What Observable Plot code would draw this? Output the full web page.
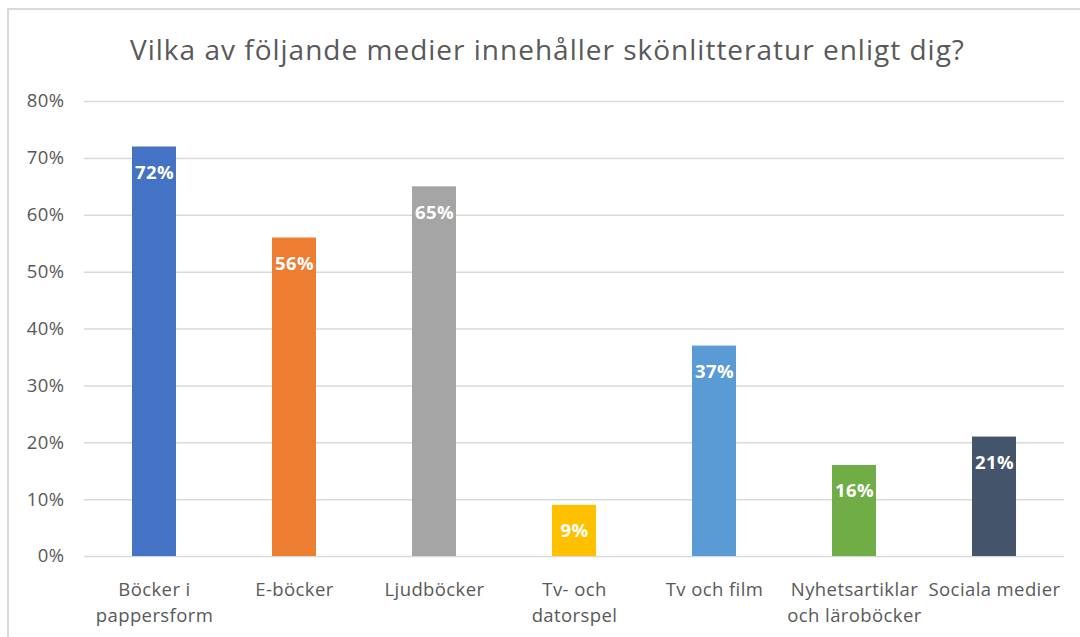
<!DOCTYPE html>
<html>
<head>
<meta charset="utf-8">
<script src="https://cdn.jsdelivr.net/npm/d3@7"></script>
<script src="https://cdn.jsdelivr.net/npm/@observablehq/plot@0.6"></script>
<style>
  html, body { margin: 0; padding: 0; background: #fff; }
  #wrap { position: relative; width: 1080px; height: 637px; overflow: hidden; font-family: "Open Sans", sans-serif; }
  #frame { position: absolute; left: 7px; top: 8px; width: 1100px; height: 700px; border-top: 2px solid #d9d9d9; border-left: 2px solid #d9d9d9; box-sizing: border-box; }
  #title { position: absolute; left: 0; width: 1095px; top: 29px; text-align: center; font-size: 28px; color: #595959; line-height: 40px; letter-spacing: 1px; white-space: nowrap; }
  #chart { position: absolute; left: 0; top: 0; }
</style>
</head>
<body>
<div id="wrap">
  <div id="frame"></div>
  <div id="title">Vilka av följande medier innehåller skönlitteratur enligt dig?</div>
  <div id="chart"></div>
</div>
<script>
const categories = ["Böcker i\npappersform", "E-böcker", "Ljudböcker", "Tv- och\ndatorspel", "Tv och film", "Nyhetsartiklar\noch läroböcker", "Sociala medier"];
const values = [0.72, 0.56, 0.65, 0.09, 0.37, 0.16, 0.21];
const colors = ["#4472C4", "#ED7D31", "#A5A5A5", "#FFC000", "#5B9BD5", "#70AD47", "#44546A"];
const yTicks = [0, 0.1, 0.2, 0.3, 0.4, 0.5, 0.6, 0.7, 0.8];

const data = categories.map((c, i) => ({category: c, value: values[i], color: colors[i]}));

const chart = Plot.plot({
  width: 1080,
  height: 637,
  marginTop: 101,
  marginBottom: 81,
  marginLeft: 84,
  marginRight: 16,
  style: {fontFamily: "Open Sans, sans-serif", background: "transparent", color: "#595959", letterSpacing: "0.4px"},
  x: {domain: categories, paddingInner: 0.686, paddingOuter: 0.343, label: null},
  y: {domain: [0, 0.8], label: null},
  marks: [
    Plot.gridY(yTicks, {stroke: "#d9d9d9", strokeOpacity: 1, strokeWidth: 1.5}),
    Plot.barY(data, {x: "category", y: "value", fill: "color"}),
    Plot.text(data, {x: "category", y: "value", text: d => Math.round(d.value * 100) + "%", dy: 26, fill: "white", fontWeight: "bold", fontSize: 18.5}),
    Plot.axisY(yTicks, {tickSize: 0, tickPadding: 20, tickFormat: d => Math.round(d * 100) + "%", fontSize: 18.5, fill: "#595959", label: null}),
    Plot.axisX({tickSize: 0, tickPadding: 20, fontSize: 18.5, fill: "#595959", lineHeight: 1.45, lineAnchor: "top", label: null})
  ]
});
document.getElementById("chart").appendChild(chart);
</script>
</body>
</html>
